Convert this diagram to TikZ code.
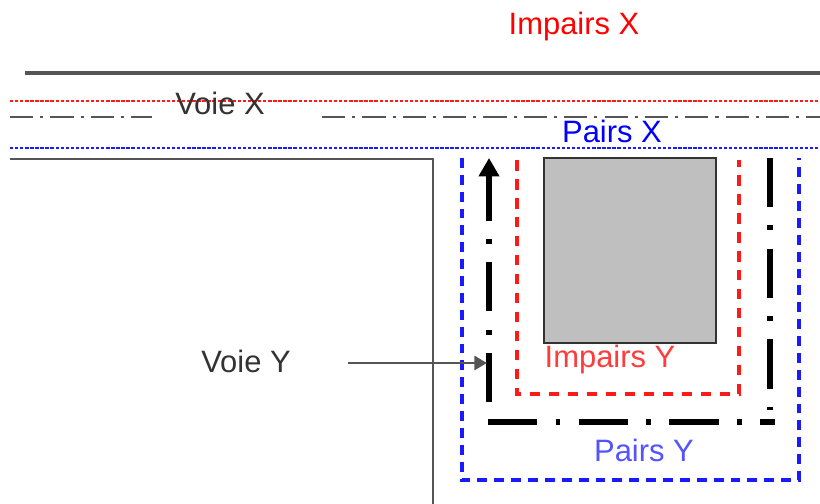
\documentclass[tikz,border=0pt]{standalone}
\usepackage{fontspec}
\setmainfont{Liberation Sans}
\usetikzlibrary{arrows.meta}
\definecolor{road}{HTML}{555555}
\definecolor{redl}{HTML}{FF1A1A}
\definecolor{bluel}{HTML}{1A1AFF}
\tikzset{
  lbl/.style={font=\fontsize{22}{26}\selectfont, inner sep=0pt},
  roadline/.style={draw=road, line width=2.4pt},
  reddot/.style={draw=redl, line width=2.1pt, dash pattern=on 2.4pt off 1.2pt},
  bluedot/.style={draw=bluel, line width=2.1pt, dash pattern=on 2.4pt off 1.2pt},
  axisdd/.style={draw=road, line width=2.1pt, dash pattern=on 16.5pt off 5pt on 2.2pt off 5pt},
  bluedash/.style={draw=bluel, line width=2.4pt, dash pattern=on 7pt off 5pt},
  reddash/.style={draw=redl, line width=2.4pt, dash pattern=on 7.5pt off 6pt},
  thickdd/.style={draw=black, line width=3.8pt, dash pattern=on 35pt off 13pt on 3.5pt off 13pt},
  thinroad/.style={draw=road, line width=2pt},
}
\begin{document}
\begin{tikzpicture}[x=0.025cm,y=-0.025cm]
\useasboundingbox[fill=white] (0,0) rectangle (820,504);
% road X lines
\coordinate (t1) at (25,73);   \coordinate (t2) at (820,73);
\coordinate (r1) at (10,101);  \coordinate (r2) at (820,101);
\coordinate (a1) at (10,117);  \coordinate (a2) at (152,117);
\coordinate (a3) at (322,117); \coordinate (a4) at (820,117);
\coordinate (b1) at (10,148);  \coordinate (b2) at (820,148);
\draw[roadline] (t1) -- (t2);
\draw[axisdd] (a1) -- (a2);
\draw[axisdd] (a3) -- (a4);
\draw[reddot] (r1) -- (r2);
\draw[bluedot] (b1) -- (b2);
% corner of road Y
\coordinate (c1) at (10,159); \coordinate (c2) at (433,159); \coordinate (c3) at (433,504);
\draw[thinroad] (c1) -- (c2) -- (c3);
% building block
\node[draw=black!80, line width=1.6pt, fill=black!25, minimum width=172*0.025cm, minimum height=185*0.025cm, inner sep=0pt] (bloc) at (630,250.5) {};
% blue dashed (Pairs Y)
\coordinate (p1) at (462,158); \coordinate (p2) at (462,480); \coordinate (p3) at (799,480); \coordinate (p4) at (799,158);
\draw[bluedash] (p1) -- (p2) -- (p3) -- (p4);
% red dashed (Impairs Y)
\coordinate (q1) at (517,160); \coordinate (q2) at (517,394); \coordinate (q3) at (739,394); \coordinate (q4) at (739,160);
\draw[reddash] (q1) -- (q2) -- (q3) -- (q4);
% thick dash-dot axes of road Y
\coordinate (v1) at (489,402); \coordinate (v2) at (489,158);
\draw[thickdd, -{Triangle[length=13pt,width=14pt]}] (v1) -- (v2);
\coordinate (h1) at (488,422); \coordinate (h2) at (775,422);
\draw[thickdd] (h1) -- (h2);
\coordinate (w1) at (770,158); \coordinate (w2) at (770,410);
\draw[thickdd] (w1) -- (w2);
% labels
\node[lbl, text=red] (impx) at (574,27) {Impairs X};
\node[lbl, text=black!80] (voiex) at (220,103) {Voie X};
\node[lbl, text=blue] (pairsx) at (612,131) {Pairs X};
\node[lbl, text=redl!85] (impy) at (610,359) {Impairs Y};
\node[lbl, text=bluel!75] (pairsy) at (644,450) {Pairs Y};
\node[lbl, text=black!80] (voiey) at (246,361) {Voie Y};
\coordinate (ys) at (348,363);
\coordinate (ye) at (487,363);
\draw[thinroad, -{Triangle[length=9pt,width=10pt]}] (ys) -- (ye);
\end{tikzpicture}
\end{document}
